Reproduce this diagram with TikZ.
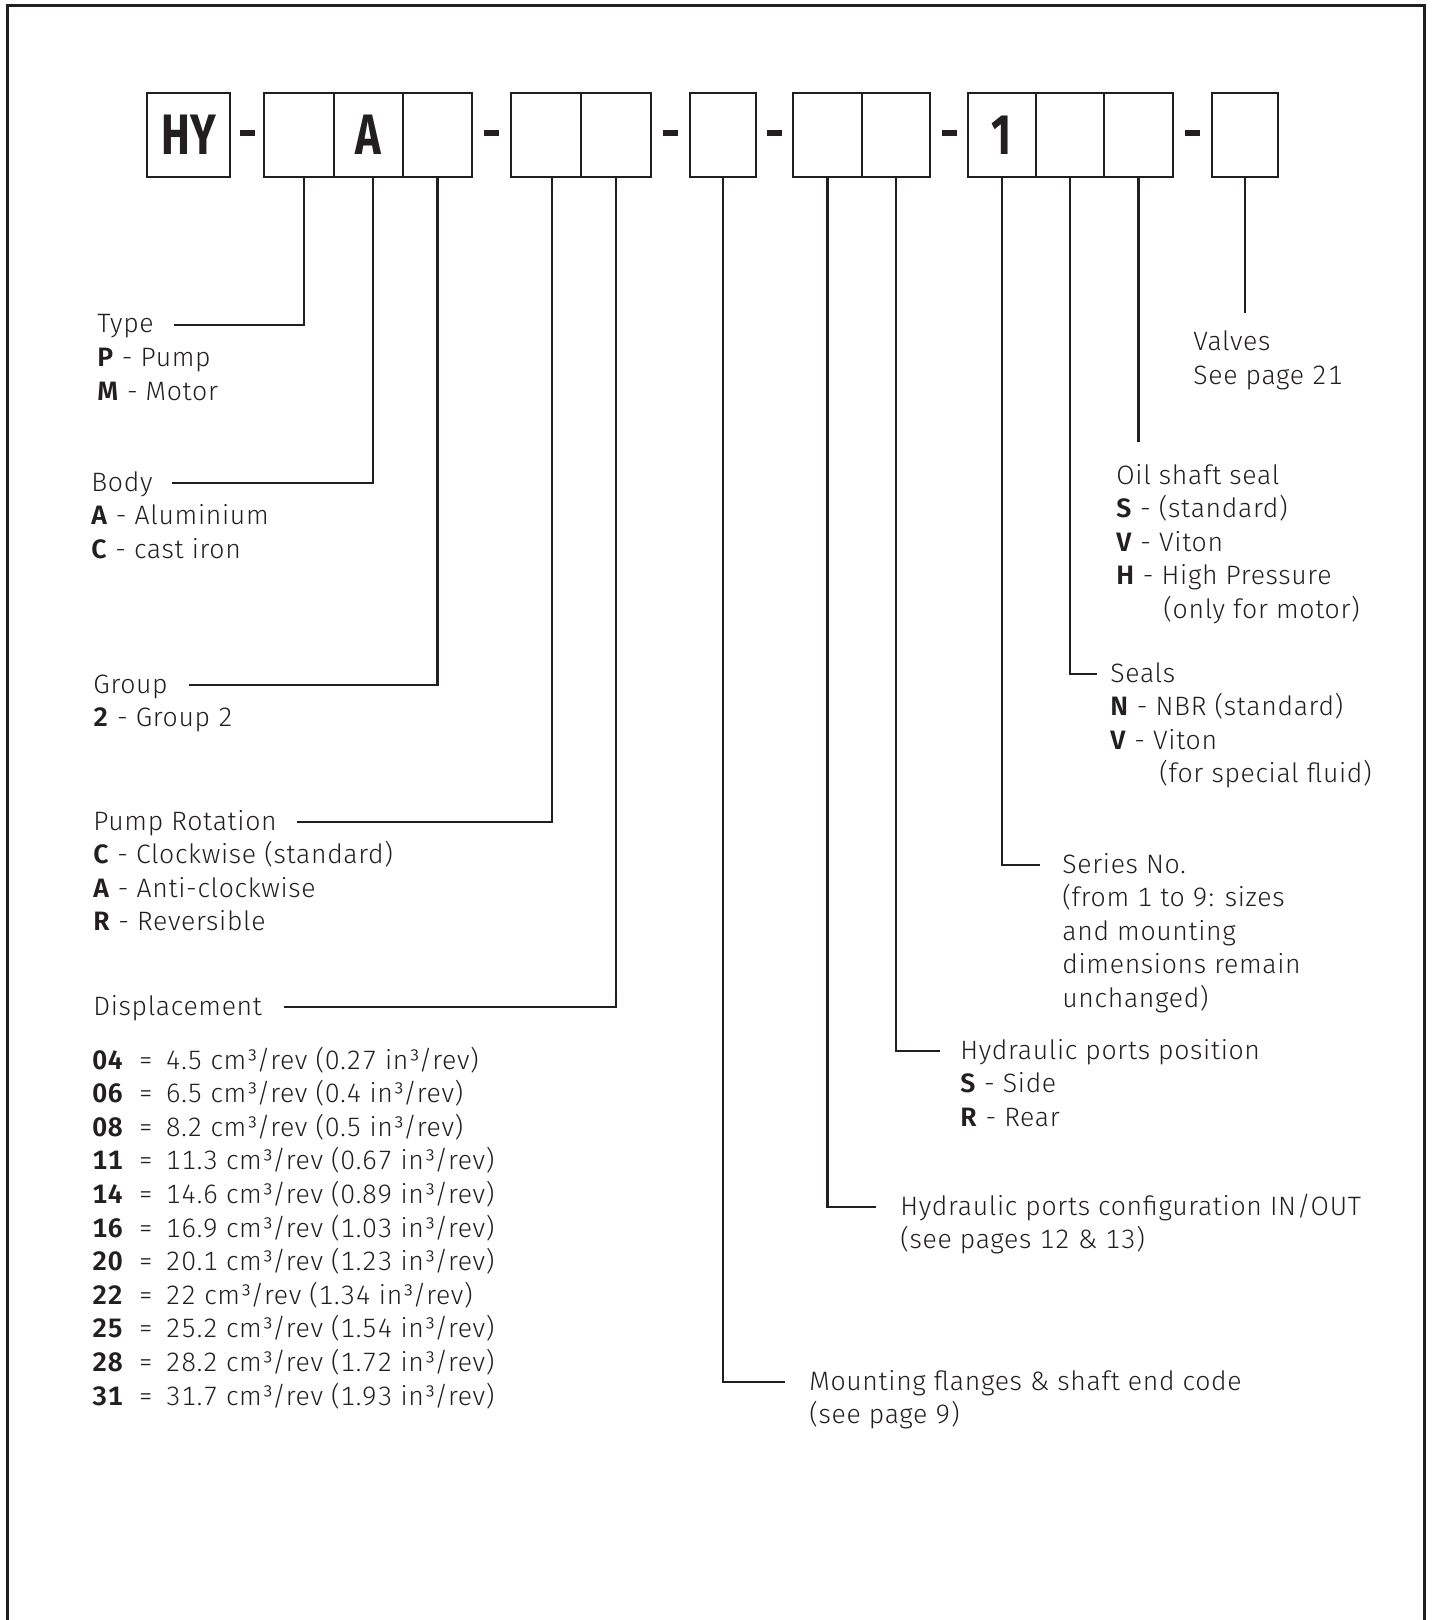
\documentclass[tikz,border=0pt]{standalone}
\usepackage{fontspec}
\usepackage{graphicx}
\setmainfont{Fira Sans Light}[BoldFont={Fira Sans SemiBold}, Numbers=Monospaced, LetterSpace=2.5]
\newfontfamily\boxfont{Fira Sans}
\definecolor{ink}{HTML}{231F20}
\newcommand\lblines[1]{\begin{tabular}[t]{@{}l@{}}#1\end{tabular}}
\begin{document}
\begin{tikzpicture}[x=0.5pt,y=-0.5pt,
  cellbox/.style={draw=ink, line width=1.1pt, minimum height=42pt, inner sep=0pt, outer sep=0pt,
    font=\boxfont\bfseries\fontsize{28.5pt}{28.5pt}\selectfont, text=ink},
  dashbox/.style={fill=ink, minimum width=7.5pt, minimum height=3.3pt, inner sep=0pt},
  lbl/.style={anchor=base west, inner sep=0pt, text=ink,
    font=\fontsize{13.3pt}{16.8pt}\selectfont},
  conn/.style={draw=ink, line width=1.1pt},
  frame/.style={draw=ink, line width=1.5pt}]
\useasboundingbox (0,0) rectangle (1431,1620);
% frame
\coordinate (fbl) at (7,1620);
\coordinate (ftl) at (7,6);
\coordinate (ftr) at (1424,6);
\coordinate (fbr) at (1424,1620);
\draw[frame] (fbl) -- (ftl) -- (ftr) -- (fbr);
% code boxes
\node[cellbox, minimum width=41.5pt] (hy) at (188.5,135) {\scalebox{0.76}[1]{HY}};
\node[cellbox, minimum width=35pt] (c21) at (299,135) {};
\node[cellbox, minimum width=34.5pt] (c22) at (368.5,135) {\scalebox{0.76}[1]{A}};
\node[cellbox, minimum width=34.5pt] (c23) at (437.5,135) {};
\node[cellbox, minimum width=35pt] (c31) at (546,135) {};
\node[cellbox, minimum width=35pt] (c32) at (616,135) {};
\node[cellbox, minimum width=33pt] (c41) at (723,135) {};
\node[cellbox, minimum width=34.5pt] (c51) at (827.5,135) {};
\node[cellbox, minimum width=34pt] (c52) at (896,135) {};
\node[cellbox, minimum width=34pt] (c61) at (1002,135) {\scalebox{0.76}[1]{1}};
\node[cellbox, minimum width=34pt] (c62) at (1070,135) {};
\node[cellbox, minimum width=34.5pt] (c63) at (1138.5,135) {};
\node[cellbox, minimum width=33pt] (c71) at (1245,135) {};
% dashes
\node[dashbox] (d1) at (247,133) {};
\node[dashbox] (d2) at (491.5,133) {};
\node[dashbox] (d3) at (670.5,133) {};
\node[dashbox] (d4) at (774.5,133) {};
\node[dashbox] (d5) at (949,133) {};
\node[dashbox] (d6) at (1192.5,133) {};
% connector ends
\coordinate (tyE) at (174,325);
\coordinate (boE) at (172,483);
\coordinate (grE) at (189,685);
\coordinate (prE) at (297,822);
\coordinate (diE) at (284,1007);
\coordinate (moE) at (785,1382);
\coordinate (hcE) at (876,1207);
\coordinate (hpE) at (940,1051);
\coordinate (seE) at (1040,865);
\coordinate (slE) at (1097,674);
\coordinate (osE) at (1138.5,442);
\coordinate (vaE) at (1245,313);
% connectors
\draw[conn] ([xshift=2.5pt]c21.south) |- (tyE);
\draw[conn] ([xshift=2.25pt]c22.south) |- (boE);
\draw[conn] (c23.south) |- (grE);
\draw[conn] ([xshift=3pt]c31.south) |- (prE);
\draw[conn] (c32.south) |- (diE);
\draw[conn] (c41.south) |- (moE);
\draw[conn] (c51.south) |- (hcE);
\draw[conn] (c52.south) |- (hpE);
\draw[conn] (c61.south) |- (seE);
\draw[conn] (c62.south) |- (slE);
\draw[conn] (c63.south) -- (osE);
\draw[conn] (c71.south) -- (vaE);
% labels
\node[lbl] (ltype) at (97,333) {\lblines{Type\\\textbf{P} - Pump\\\textbf{M} - Motor}};
\node[lbl] (lbody) at (91,491) {\lblines{Body\\\textbf{A} - Aluminium\\\textbf{C} - cast iron}};
\node[lbl] (lgroup) at (93,693) {\lblines{Group\\\textbf{2} - Group 2}};
\node[lbl] (lrot) at (93,830) {\lblines{Pump Rotation\\\textbf{C} - Clockwise (standard)\\\textbf{A} - Anti-clockwise\\\textbf{R} - Reversible}};
\node[lbl] (ldisp) at (93,1015) {Displacement};
\node[lbl] (ltab) at (92,1069) {\begin{tabular}[t]{@{}p{23pt}@{}l@{}}
\textbf{04} & = \,4.5 cm³/rev (0.27 in³/rev)\\
\textbf{06} & = \,6.5 cm³/rev (0.4 in³/rev)\\
\textbf{08} & = \,8.2 cm³/rev (0.5 in³/rev)\\
\textbf{11} & = \,11.3 cm³/rev (0.67 in³/rev)\\
\textbf{14} & = \,14.6 cm³/rev (0.89 in³/rev)\\
\textbf{16} & = \,16.9 cm³/rev (1.03 in³/rev)\\
\textbf{20} & = \,20.1 cm³/rev (1.23 in³/rev)\\
\textbf{22} & = \,22 cm³/rev (1.34 in³/rev)\\
\textbf{25} & = \,25.2 cm³/rev (1.54 in³/rev)\\
\textbf{28} & = \,28.2 cm³/rev (1.72 in³/rev)\\
\textbf{31} & = \,31.7 cm³/rev (1.93 in³/rev)
\end{tabular}};
\node[lbl] (lmount) at (809,1390) {\lblines{Mounting flanges \& shaft end code\\(see page 9)}};
\node[lbl] (lconf) at (900,1215) {\lblines{Hydraulic ports configuration IN/OUT\\(see pages 12 \& 13)}};
\node[lbl] (lpos) at (960,1059) {\lblines{Hydraulic ports position\\\textbf{S} - Side\\\textbf{R} - Rear}};
\node[lbl] (lser) at (1062,873) {\lblines{Series No.\\(from 1 to 9: sizes\\and mounting\\dimensions remain\\unchanged)}};
\node[lbl] (lseal) at (1110,682) {\lblines{Seals\\\textbf{N} - NBR (standard)\\\textbf{V} - Viton\\\hspace*{24.5pt}(for special fluid)}};
\node[lbl] (loil) at (1116,484) {\lblines{Oil shaft seal\\\textbf{S} - (standard)\\\textbf{V} - Viton\\\textbf{H} - High Pressure\\\hspace*{23.5pt}(only for motor)}};
\node[lbl] (lval) at (1193,351) {\lblines{Valves\\See page 21}};
\end{tikzpicture}
\end{document}
